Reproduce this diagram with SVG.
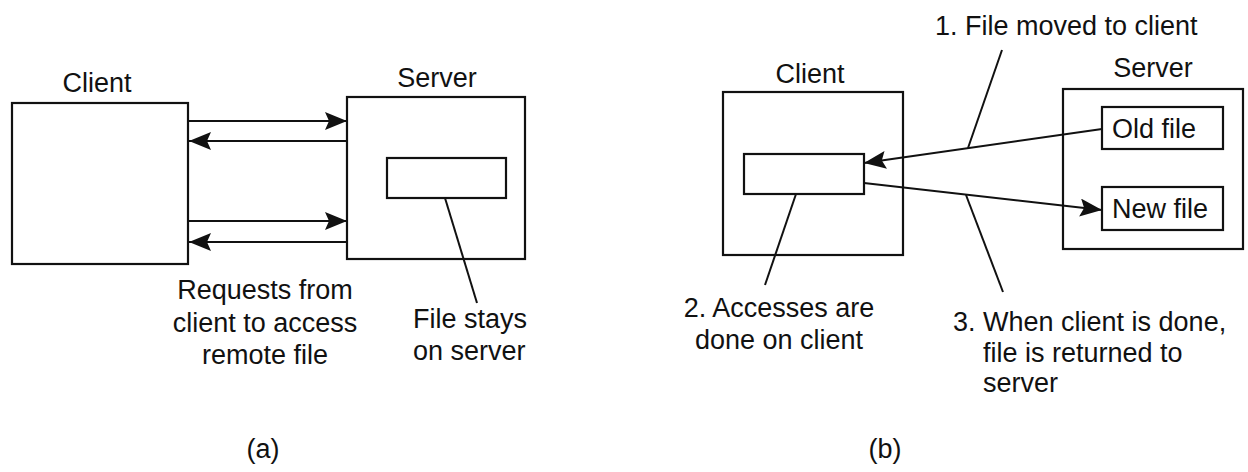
<svg xmlns="http://www.w3.org/2000/svg" width="1248" height="472" viewBox="0 0 1248 472">
<style>
.box{fill:none;stroke:#111;stroke-width:2.2}
.ln{fill:none;stroke:#111;stroke-width:2}
.t{font-family:"Liberation Sans",Arial,Helvetica,sans-serif;font-size:27px;fill:#111}
.m{text-anchor:middle}
</style>
<defs>
<marker id="ah" markerUnits="userSpaceOnUse" markerWidth="26" markerHeight="20" refX="22" refY="9" orient="auto">
<path d="M0,0 L22,9 L0,18 L4,9 z" fill="#111"/>
</marker>
</defs>
<rect width="1248" height="472" fill="#fff"/>

<g id="a-client">
<rect class="box" x="12" y="103" width="176" height="161"/>
<text class="t m" x="97" y="92">Client</text>
</g>
<g id="a-server">
<rect class="box" x="347" y="97" width="178" height="162"/>
<text class="t m" x="437" y="87">Server</text>
</g>
<g id="a-file">
<rect class="box" x="387" y="158" width="119" height="40"/>
</g>
<g id="a-labels">
<text class="t m" x="265" y="299">Requests from</text>
<text class="t m" x="265" y="332">client to access</text>
<text class="t m" x="265" y="364">remote file</text>
<text class="t" x="413" y="328">File stays</text>
<text class="t" x="413" y="360">on server</text>
<text class="t m" x="263" y="458">(a)</text>
</g>

<g id="b-client">
<rect class="box" x="723" y="92" width="180" height="163"/>
<text class="t m" x="810" y="83">Client</text>
</g>
<g id="b-copy">
<rect class="box" x="744" y="154" width="120" height="40"/>
</g>
<g id="b-server">
<rect class="box" x="1063" y="89" width="180" height="160"/>
<text class="t m" x="1153" y="77">Server</text>
</g>
<g id="b-old">
<rect class="box" x="1102" y="107" width="121" height="42"/>
<text class="t" x="1112" y="138">Old file</text>
</g>
<g id="b-new">
<rect class="box" x="1102" y="187" width="121" height="43"/>
<text class="t" x="1112" y="218">New file</text>
</g>
<g id="b-labels">
<text class="t" x="935" y="35">1. File moved to client</text>
<text class="t m" x="779" y="317">2. Accesses are</text>
<text class="t m" x="779" y="349">done on client</text>
<text class="t" x="953" y="331">3. When client is done,</text>
<text class="t" x="983" y="362">file is returned to</text>
<text class="t" x="983" y="392">server</text>
<text class="t m" x="885" y="458">(b)</text>
</g>

<g id="connectors">
<line class="ln" x1="189" y1="121" x2="347" y2="121" marker-end="url(#ah)"/>
<line class="ln" x1="347" y1="141" x2="189" y2="141" marker-end="url(#ah)"/>
<line class="ln" x1="189" y1="221" x2="347" y2="221" marker-end="url(#ah)"/>
<line class="ln" x1="347" y1="242" x2="189" y2="242" marker-end="url(#ah)"/>
<line class="ln" x1="445" y1="198" x2="477" y2="303"/>
<line class="ln" x1="1102" y1="129" x2="864" y2="163" marker-end="url(#ah)"/>
<line class="ln" x1="864" y1="183" x2="1102" y2="210" marker-end="url(#ah)"/>
<line class="ln" x1="1002" y1="50" x2="968" y2="148"/>
<line class="ln" x1="796" y1="194" x2="765" y2="285"/>
<line class="ln" x1="966" y1="195" x2="1003" y2="292"/>
</g>
</svg>
